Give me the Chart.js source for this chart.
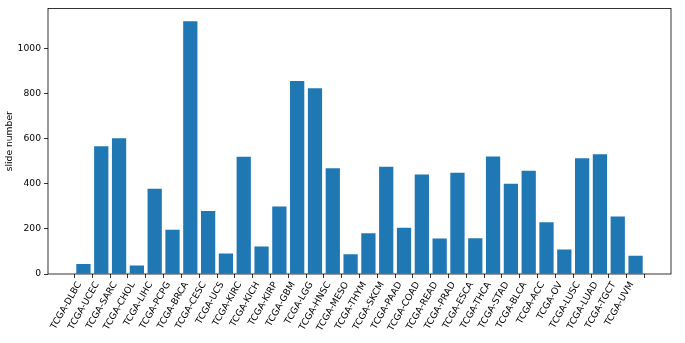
<!DOCTYPE html>
<html>
<head>
<meta charset="utf-8">
<script src="https://cdn.jsdelivr.net/npm/chart.js@4/dist/chart.umd.min.js"></script>
<style>
html,body{margin:0;padding:0;background:#fff;}
#wrap{width:685px;height:343px;position:relative;}
</style>
</head>
<body>
<div id="wrap"><canvas id="c" width="685" height="343"></canvas></div>
<script>
const categories = ["TCGA-DLBC","TCGA-UCEC","TCGA-SARC","TCGA-CHOL","TCGA-LIHC","TCGA-PCPG","TCGA-BRCA","TCGA-CESC","TCGA-UCS","TCGA-KIRC","TCGA-KICH","TCGA-KIRP","TCGA-GBM","TCGA-LGG","TCGA-HNSC","TCGA-MESO","TCGA-THYM","TCGA-SKCM","TCGA-PAAD","TCGA-COAD","TCGA-READ","TCGA-PRAD","TCGA-ESCA","TCGA-THCA","TCGA-STAD","TCGA-BLCA","TCGA-ACC","TCGA-OV","TCGA-LUSC","TCGA-LUAD","TCGA-TGCT","TCGA-UVM"];
const slideNumbers = [44,566,601,38,378,196,1120,279,91,519,122,299,855,823,468,88,180,475,205,441,157,449,158,521,400,457,229,108,513,531,255,81];
const yTicks = [0,200,400,600,800,1000];
const yLabel = "slide number";

const FONT = "'DejaVu Sans', sans-serif";
const n = categories.length;
const span = (n - 1) + 0.8;
const pad = span * 0.05;
const xMin = -0.4 - pad, xMax = (n - 1) + 0.4 + pad;
const yMax = Math.max(...slideNumbers) * 1.05;

const framePlugin = {
  id: 'frame',
  afterDraw(chart) {
    const a = chart.chartArea, ctx = chart.ctx;
    ctx.save();
    ctx.strokeStyle = '#000';
    ctx.lineWidth = 0.8;
    ctx.strokeRect(a.left, a.top, a.right - a.left, a.bottom - a.top);
    ctx.restore();
  }
};

new Chart(document.getElementById('c'), {
  type: 'bar',
  data: {
    datasets: [{
      data: slideNumbers.map((v, i) => ({x: i, y: v})),
      backgroundColor: '#1f77b4',
      borderWidth: 0,
      barPercentage: 1.0,
      categoryPercentage: 0.8
    }]
  },
  options: {
    responsive: false,
    animation: false,
    devicePixelRatio: 1,
    layout: {padding: {top: 7, right: 14, left: 0, bottom: 0}},
    plugins: {legend: {display: false}, tooltip: {enabled: false}},
    scales: {
      x: {
        type: 'linear',
        offset: false,
        min: xMin, max: xMax,
        afterBuildTicks(s) { s.ticks = categories.map((c, i) => ({value: i})); },
        afterFit(s) { s.height = 69; },
        ticks: {
          autoSkip: false,
          maxRotation: 60, minRotation: 60,
          color: '#000',
          font: {family: FONT, size: 9.2},
          padding: 2,
          labelOffset: -4,
          callback: (v) => categories[v]
        },
        grid: {display: true, drawOnChartArea: false, drawTicks: true, tickLength: 4, color: '#000', lineWidth: 0.8},
        border: {display: false}
      },
      y: {
        type: 'linear',
        min: 0, max: yMax,
        afterBuildTicks(s) { s.ticks = yTicks.map(v => ({value: v})); },
        afterFit(s) { s.width = 48; },
        ticks: {color: '#000', font: {family: FONT, size: 9.2}, padding: 3, callback: (v) => String(v)},
        grid: {display: true, drawOnChartArea: false, drawTicks: true, tickLength: 4, color: '#000', lineWidth: 0.8},
        border: {display: false},
        title: {display: true, text: yLabel, color: '#000', font: {family: FONT, size: 9.2}, padding: {top: 4, bottom: 0}}
      }
    }
  },
  plugins: [framePlugin]
});
</script>
</body>
</html>
